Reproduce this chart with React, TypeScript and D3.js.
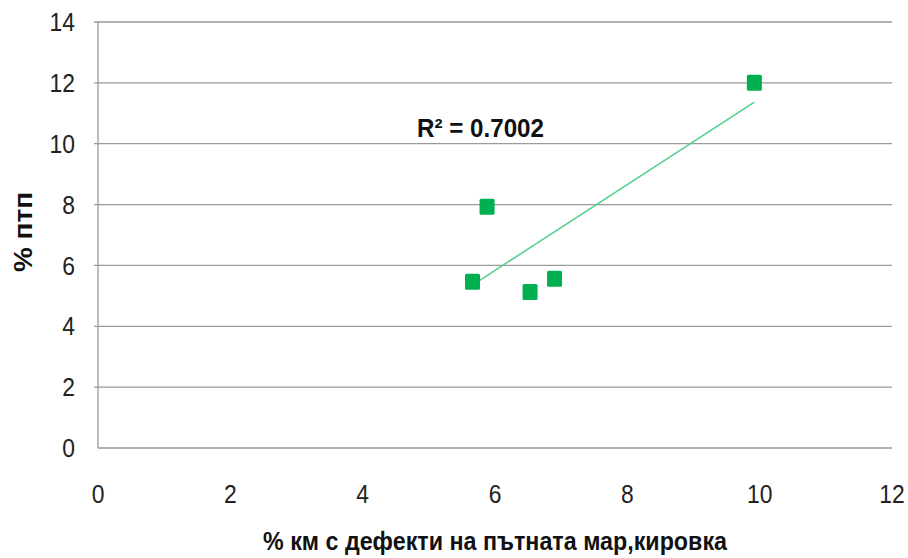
import React from "react";
import * as d3 from "d3";

const xValues = [5.66, 5.88, 6.53, 6.9, 9.92];
const yValues = [5.46, 7.93, 5.13, 5.56, 12.0];
const xTicks = [0, 2, 4, 6, 8, 10, 12];
const yTicks = [0, 2, 4, 6, 8, 10, 12, 14];
const xTitle = "% км с дефекти на пътната мар,кировка";
const yTitle = "% птп";
const r2Label = "R² = 0.7002";

const W = 908;
const H = 558;
const FONT = "'Liberation Sans Narrow', 'Arial Narrow', 'Liberation Sans', sans-serif";

export default function App() {
  const x = d3.scaleLinear().domain([0, 12]).range([98, 892]);
  const y = d3.scaleLinear().domain([0, 14]).range([448, 22]);

  const n = xValues.length;
  const mx = d3.mean(xValues)!;
  const my = d3.mean(yValues)!;
  let sxy = 0, sxx = 0;
  for (let i = 0; i < n; i++) {
    sxy += (xValues[i] - mx) * (yValues[i] - my);
    sxx += (xValues[i] - mx) ** 2;
  }
  const slope = sxy / sxx;
  const intercept = my - slope * mx;
  const x0 = d3.min(xValues)!;
  const x1 = d3.max(xValues)!;
  const line = d3.line<number>().x((d) => x(d)).y((d) => y(slope * d + intercept));

  const sw = 15;
  const sh = 16;

  return (
    <svg width={W} height={H} style={{ position: "absolute", left: 0, top: 0, background: "#fff" }}>
      {yTicks.map((t) => (
        <g key={"y" + t}>
          <line x1={t === 0 ? 98 : 94} x2={892} y1={y(t)} y2={y(t)} stroke="#9a9a9a" strokeWidth={1.3} />
          <text
            x={0}
            y={0}
            transform={`translate(75,${y(t)}) scale(0.88,1)`}
            dy="0.35em"
            textAnchor="end"
            fontFamily={FONT}
            fontSize={26}
            fill="#222"
          >
            {t}
          </text>
        </g>
      ))}
      <line x1={98} x2={98} y1={22} y2={448} stroke="#9a9a9a" strokeWidth={1.3} />
      {xTicks.map((t) => (
        <text
          key={"x" + t}
          x={0}
          y={0}
          transform={`translate(${x(t)},494) scale(0.88,1)`}
          dy="0.35em"
          textAnchor="middle"
          fontFamily={FONT}
          fontSize={26}
          fill="#222"
        >
          {t}
        </text>
      ))}
      <path d={line([x0, x1]) || ""} fill="none" stroke="#4fd08a" strokeWidth={1.5} />
      {xValues.map((v, i) => (
        <rect key={"p" + i} x={x(v) - sw / 2} y={y(yValues[i]) - sh / 2} width={sw} height={sh} rx={1.5} fill="#00b050" />
      ))}
      <text x={417} y={128} dy="0.35em" fontFamily={FONT} fontSize={25} fontWeight="bold" fill="#111" textLength={127} lengthAdjust="spacingAndGlyphs">
        {r2Label}
      </text>
      <text x={263} y={541} dy="0.35em" fontFamily={FONT} fontSize={25} fontWeight="bold" fill="#111" textLength={464} lengthAdjust="spacingAndGlyphs">
        {xTitle}
      </text>
      <text transform={`translate(23,272) rotate(-90)`} x={0} y={0} dy="0.35em" fontFamily={FONT} fontSize={25} fontWeight="bold" fill="#111" textLength={80} lengthAdjust="spacingAndGlyphs">
        {yTitle}
      </text>
    </svg>
  );
}
